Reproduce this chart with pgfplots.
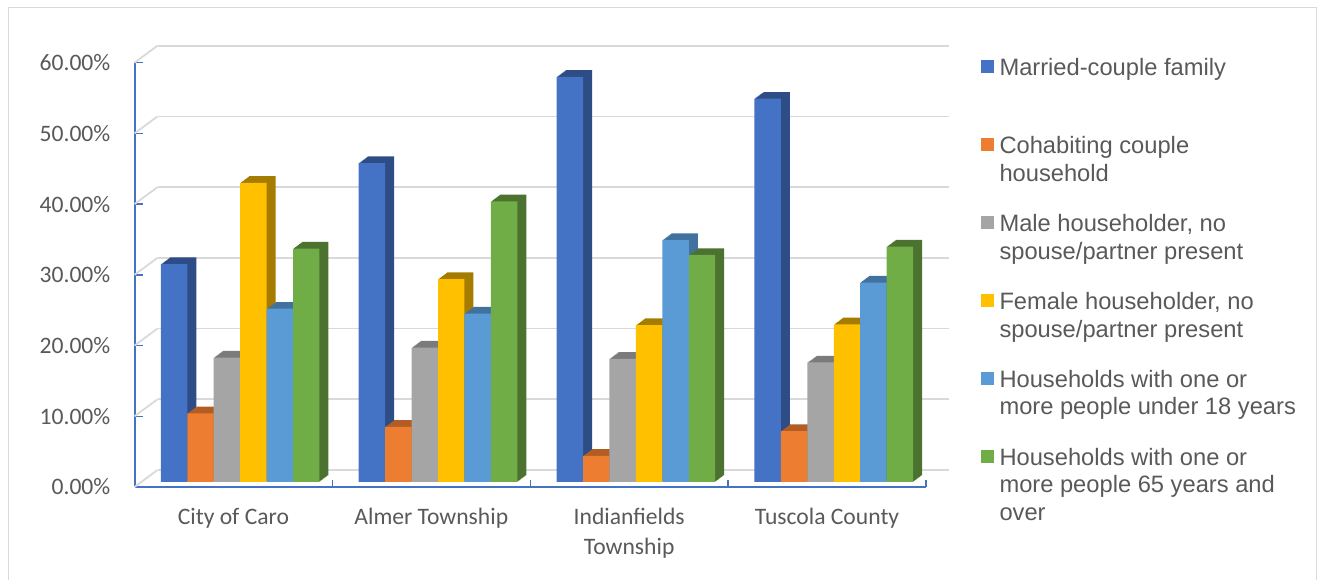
\documentclass[border=0pt]{standalone}
\usepackage{pgfplots}
\pgfplotsset{compat=1.18}
\usepackage{pgfplotstable}
\usepackage{fontspec}
\setmainfont{Liberation Sans}
\newfontfamily\calib{Carlito}
\definecolor{txt}{HTML}{595959}
\definecolor{axblue}{HTML}{4472C4}
\definecolor{gridgray}{HTML}{D9D9D9}
\definecolor{cA}{HTML}{4472C4}\definecolor{dA}{HTML}{2E4C85}
\definecolor{cB}{HTML}{ED7D31}\definecolor{dB}{HTML}{B35D24}
\definecolor{cC}{HTML}{A5A5A5}\definecolor{dC}{HTML}{7B7B7B}
\definecolor{cD}{HTML}{FFC000}\definecolor{dD}{HTML}{A67C00}
\definecolor{cE}{HTML}{5B9BD5}\definecolor{dE}{HTML}{41719E}
\definecolor{cF}{HTML}{70AD47}\definecolor{dF}{HTML}{4B722F}

\pgfplotstableread{
x married cohab male female under over
0 30.8 9.7 17.6 42.3 24.5 33.0
1 45.1 7.8 19.0 28.7 23.8 39.7
2 57.3 3.7 17.4 22.2 34.2 32.1
3 54.2 7.2 16.9 22.3 28.2 33.3
}\data

% #1 column, #2 front colour, #3 side colour, #4 bar shift, #5 legend text
\newcommand\series[5]{%
  \pgfplotsinvokeforeach{1,...,9}{%
    \addplot[ybar, bar width=26.43pt, bar shift=#4pt, fill=#3, draw=none,
      xshift=##1pt, yshift=0.745*##1pt, forget plot]
      table[x=x, y=#1] {\data};}
  \addplot[ybar, bar width=26.43pt, bar shift=#4pt, fill=#2, draw=none,
    legend image code/.code={\fill[#2] (0pt,23.6pt) rectangle (13pt,36.6pt);}]
    table[x=x, y=#1] {\data};
  \addlegendentry{\begin{tabular}[t]{@{}l@{}}#5\end{tabular}}
}

\begin{document}
\begin{tikzpicture}
\useasboundingbox (0pt,0pt) rectangle (1317pt,580pt);
\draw[gridgray, line width=1pt] (8pt,-5pt) -- (8pt,572pt) -- (1316pt,572pt) -- (1316pt,-5pt);

% front axis with back-wall grid
\begin{axis}[
  at={(134.5pt,93pt)}, anchor=south west,
  scale only axis, width=791.5pt, height=424.3pt,
  xmin=-0.5, xmax=3.5, ymin=0, ymax=60,
  axis x line*=bottom, axis y line*=left,
  axis line style={draw=axblue, line width=2pt},
  ymajorgrids,
  major grid style={draw=gridgray, line width=1.8pt, xshift=23pt, yshift=17pt},
  ytick={0,10,...,60},
  yticklabels={0.00\%,10.00\%,20.00\%,30.00\%,40.00\%,50.00\%,60.00\%},
  xtick={0,1,2,3},
  xticklabels={City of Caro, Almer Township, Indianfields\\Township, Tuscola County},
  minor xtick={0.5,1.5,2.5,3.5},
  tick align=inside,
  major tick length=8pt, minor tick length=7pt,
  major x tick style={draw=none},
  major y tick style={draw=axblue, line width=1.5pt},
  minor x tick style={draw=axblue, line width=1.5pt},
  yticklabel style={font=\calib\fontsize{23.6}{28}\selectfont, text=txt, anchor=east, inner sep=0pt, xshift=-24pt},
  xticklabel style={font=\calib\fontsize{23.6}{29.5}\selectfont, text=txt, align=center, anchor=north, inner sep=0pt, yshift=-21pt},
  clip=false,
]
\pgfplotsinvokeforeach{0,10,...,60}{\draw[gridgray, line width=1.8pt] (axis cs:-0.5,#1) -- ++(23pt,17pt);}
\end{axis}

% bars plane
\begin{axis}[
  at={(141.2pt,98pt)}, anchor=south west,
  scale only axis, width=791.5pt, height=424.3pt,
  xmin=-0.5, xmax=3.5, ymin=0, ymax=60,
  hide axis, clip=false,
  legend cell align=left,
  legend style={at={(axis description cs:1,1)}, anchor=north west, xshift=48.3pt, yshift=0pt,
    draw=none, fill=none, inner sep=0pt, row sep=0pt, column sep=5.3pt,
    font=\fontsize{23.7}{27.7}\selectfont, text=txt,
    nodes={inner sep=0pt, text height=17.7pt, text depth=60.2pt}},
]
\series{married}{cA}{dA}{-66.075}{Married-couple family}
\series{cohab}{cB}{dB}{-39.645}{Cohabiting couple\\household}
\series{male}{cC}{dC}{-13.215}{Male householder, no\\spouse/partner present}
\series{female}{cD}{dD}{13.215}{Female householder, no\\spouse/partner present}
\series{under}{cE}{dE}{39.645}{Households with one or\\more people under 18 years}
\series{over}{cF}{dF}{66.075}{Households with one or\\more people 65 years and\\over}
\end{axis}
\end{tikzpicture}
\end{document}
